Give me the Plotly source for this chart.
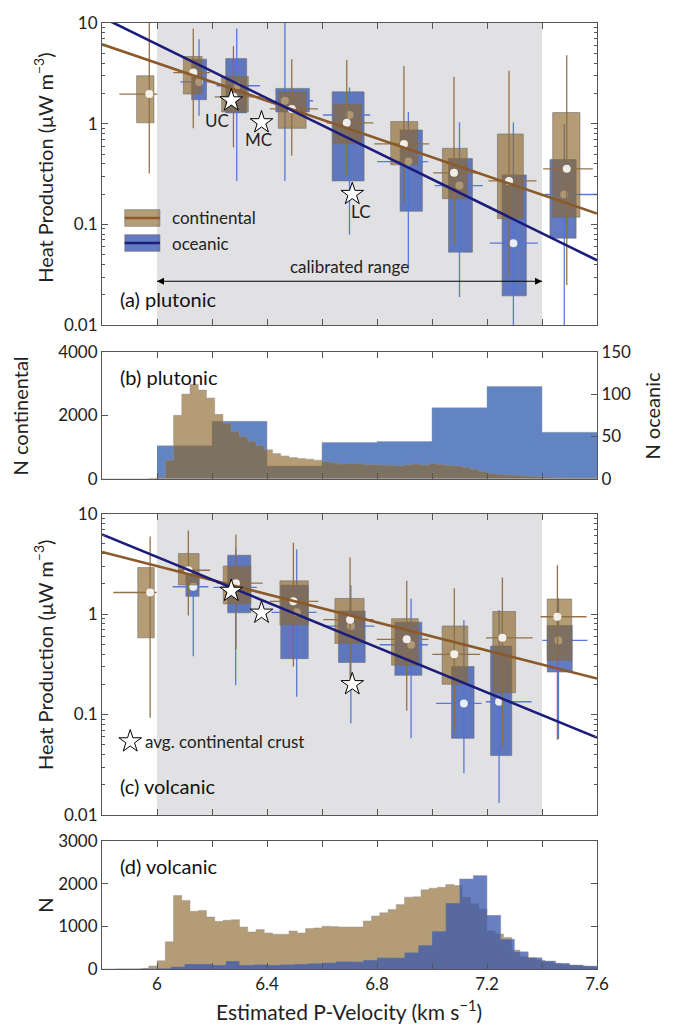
import numpy as np
import plotly.graph_objects as go

# ---------------- data ----------------
VP_RANGE = [5.8, 7.6]
CAL_RANGE = [6.0, 7.4]
X_TICKS = [6.0, 6.4, 6.8, 7.2, 7.6]
X_TICK_TEXT = ["6", "6.4", "6.8", "7.2", "7.6"]
X_MINOR_TICKS = [6.2, 6.6, 7.0, 7.4]
LOG_TICKS = [0.01, 0.1, 1, 10]
LOG_TICK_TEXT = ["0.01", "0.1", "1", "10"]

# regression lines (value at both ends of the velocity axis)
FIT_VP = [5.8, 7.6]
PLUT_FIT_CONT = [6.15, 0.128]
PLUT_FIT_OCEAN = [11.4, 0.044]
VOLC_FIT_CONT = [4.15, 0.228]
VOLC_FIT_OCEAN = [6.2, 0.059]

# average continental crust (upper, middle, lower)
STAR_VP = [6.27, 6.38, 6.71]
STAR_A = [1.7, 1.03, 0.2]
STAR_LABELS = ["UC", "MC", "LC"]

# ---- (a) plutonic, continental ----
PC_VP_MED = [5.972, 6.132, 6.278, 6.49, 6.69, 6.898, 7.08, 7.28, 7.49]
PC_VP_Q1 = [5.926, 6.096, 6.235, 6.441, 6.641, 6.85, 7.038, 7.238, 7.439]
PC_VP_Q3 = [5.989, 6.164, 6.332, 6.542, 6.744, 6.948, 7.128, 7.332, 7.538]
PC_VP_LO = [5.863, 6.059, 6.21, 6.41, 6.617, 6.79, 7.004, 7.205, 7.404]
PC_VP_HI = [6.001, 6.193, 6.385, 6.585, 6.787, 6.99, 7.175, 7.38, 7.585]
PC_A_MED = [1.97, 3.22, 1.85, 1.4, 1.02, 0.63, 0.325, 0.27, 0.356]
PC_A_Q1 = [1.02, 1.97, 1.31, 0.9, 0.63, 0.39, 0.18, 0.114, 0.118]
PC_A_Q3 = [2.99, 4.64, 2.94, 2.07, 1.57, 1.05, 0.57, 0.79, 1.29]
PC_A_LO = [0.32, 0.9, 0.58, 0.48, 0.31, 0.164, 0.064, 0.031, 0.025]
PC_A_HI = [12.0, 8.8, 5.9, 4.37, 4.3, 3.75, 2.92, 3.35, 4.79]

# ---- (a) plutonic, oceanic ----
PO_VP_MED = [6.153, 6.29, 6.465, 6.70, 6.914, 7.10, 7.296, 7.481]
PO_VP_Q1 = [6.126, 6.25, 6.432, 6.637, 6.884, 7.06, 7.255, 7.429]
PO_VP_Q3 = [6.18, 6.326, 6.554, 6.753, 6.965, 7.147, 7.343, 7.524]
PO_VP_LO = [6.085, 6.217, 6.43, 6.604, 6.80, 7.01, 7.21, 7.41]
PO_VP_HI = [6.21, 6.375, 6.567, 6.775, 6.985, 7.185, 7.385, 7.62]
PO_A_MED = [2.6, 2.38, 1.69, 1.22, 0.42, 0.243, 0.065, 0.198]
PO_A_Q1 = [1.73, 1.28, 1.31, 0.27, 0.135, 0.053, 0.0195, 0.073]
PO_A_Q3 = [4.37, 4.43, 2.24, 2.07, 0.865, 0.45, 0.31, 0.44]
PO_A_LO = [1.2, 0.27, 0.27, 0.079, 0.035, 0.019, 0.008, 0.008]
PO_A_HI = [6.9, 8.8, 12.0, 2.29, 1.31, 1.03, 1.03, 1.0]

# ---- (c) volcanic, continental ----
VC_VP_MED = [5.975, 6.114, 6.287, 6.496, 6.702, 6.908, 7.081, 7.256, 7.456]
VC_VP_Q1 = [5.93, 6.078, 6.241, 6.447, 6.647, 6.853, 7.037, 7.221, 7.419]
VC_VP_Q3 = [5.99, 6.153, 6.341, 6.55, 6.753, 6.95, 7.13, 7.304, 7.508]
VC_VP_LO = [5.841, 6.076, 6.217, 6.411, 6.605, 6.799, 7.001, 7.196, 7.395]
VC_VP_HI = [5.999, 6.193, 6.384, 6.587, 6.787, 6.987, 7.175, 7.366, 7.562]
VC_A_MED = [1.64, 2.73, 2.03, 1.34, 0.88, 0.56, 0.397, 0.58, 0.94]
VC_A_Q1 = [0.58, 1.95, 1.26, 0.78, 0.51, 0.31, 0.2, 0.165, 0.347]
VC_A_Q3 = [2.9, 4.0, 3.01, 2.14, 1.43, 0.9, 0.76, 1.06, 1.41]
VC_A_LO = [0.093, 0.97, 0.45, 0.3, 0.23, 0.109, 0.067, 0.046, 0.056]
VC_A_HI = [5.9, 6.8, 6.2, 5.13, 3.65, 2.14, 1.81, 2.31, 3.06]

# ---- (c) volcanic, oceanic ----
VO_VP_MED = [6.132, 6.286, 6.508, 6.705, 6.924, 7.116, 7.244, 7.46]
VO_VP_Q1 = [6.105, 6.257, 6.45, 6.66, 6.865, 7.071, 7.213, 7.419]
VO_VP_Q3 = [6.153, 6.341, 6.55, 6.757, 6.963, 7.153, 7.29, 7.51]
VO_VP_LO = [6.057, 6.205, 6.417, 6.605, 6.81, 7.015, 7.196, 7.401]
VO_VP_HI = [6.187, 6.363, 6.58, 6.79, 6.985, 7.18, 7.362, 7.565]
VO_A_MED = [1.87, 1.84, 1.04, 0.76, 0.495, 0.129, 0.134, 0.547]
VO_A_Q1 = [1.5, 1.03, 0.36, 0.33, 0.246, 0.058, 0.039, 0.265]
VO_A_Q3 = [2.5, 3.85, 1.94, 1.07, 0.83, 0.3, 0.48, 0.77]
VO_A_LO = [0.38, 0.196, 0.15, 0.082, 0.058, 0.026, 0.0132, 0.057]
VO_A_HI = [2.6, 4.5, 4.4, 1.94, 1.43, 0.87, 1.1, 1.43]

# ---- (b) plutonic histograms ----
HB_CONT_EDGE0, HB_CONT_W = 5.7, 0.03
HB_CONT_N = [0, 0, 0, 0, 0, 0, 0, 0, 0, 20,
             40, 588, 2000, 2670, 2980, 2800, 2546, 2031, 1753, 1495,
             1330, 1186, 1052, 918, 794, 722, 670, 639, 619, 588,
             536, 505, 464, 485, 474, 454, 443, 433, 423, 412,
             443, 464, 433, 485, 454, 423, 402, 361, 299, 227,
             175, 144, 124, 113, 93, 82, 62, 52, 41, 41,
             31, 31, 31, 31]
HB_OCEAN_EDGE0, HB_OCEAN_W = 6.0, 0.2
HB_OCEAN_N = [39, 68, 15, 43, 44, 84, 109, 55]

# ---- (d) volcanic histograms ----
HD_CONT_EDGE0, HD_CONT_W = 5.7, 0.03
HD_CONT_N = [0, 0, 0, 0, 2, 3, 5, 8, 15, 70,
             194, 636, 1721, 1605, 1349, 1372, 1217, 1116, 1140, 1155,
             984, 868, 922, 845, 814, 814, 891, 845, 946, 961,
             1000, 992, 984, 984, 984, 1124, 1240, 1318, 1395, 1512,
             1682, 1690, 1853, 1891, 1915, 1977, 1953, 1682, 1527, 1400,
             891, 820, 740, 442, 287, 264, 209, 170, 132, 108,
             85, 70, 54, 39]
HD_OCEAN_EDGE0, HD_OCEAN_W = 5.95, 0.05
HD_OCEAN_N = [5, 15, 54, 116, 116, 93, 186, 93, 108, 93,
              108, 116, 132, 147, 175, 170, 209, 264, 264, 388,
              558, 884, 1543, 2109, 2186, 1256, 698, 403, 264, 186,
              132, 93, 70]

# ---------------- style ----------------
FONT = "Lato"
TAN_FILL = "rgba(140,105,45,0.65)"
BLUE_FILL = "rgba(70,100,185,0.85)"
BOX_EDGE = "rgba(110,110,110,0.6)"
TAN_WHISK = "rgba(140,108,65,0.95)"
BLUE_WHISK = "rgba(80,115,215,0.95)"
CONT_LINE = "#8a5a2b"
OCEAN_LINE = "#1c1c7c"
HIST_TAN = "rgba(140,105,45,0.65)"
HIST_BLUE_B = "rgba(70,110,185,0.85)"
HIST_BLUE_D = "rgba(58,88,172,0.76)"
HIST_EDGE = "rgba(150,150,150,0.55)"
CAL_GREY = "#e1e1e3"
AX_COL = "#555555"

fig = go.Figure()


def add_series(xa, ya, vp_med, vp_q1, vp_q3, vp_lo, vp_hi, a_med, a_q1, a_q3, a_lo, a_hi,
               fill, whisk):
    bx, by = [], []
    for x0, x1, y0, y1 in zip(vp_q1, vp_q3, a_q1, a_q3):
        bx += [x0, x1, x1, x0, x0, None]
        by += [y0, y0, y1, y1, y0, None]
    fig.add_trace(go.Scatter(x=bx, y=by, mode="lines", fill="toself", fillcolor=fill,
                             line=dict(color=BOX_EDGE, width=1), xaxis=xa, yaxis=ya,
                             hoverinfo="skip", showlegend=False))
    wx, wy = [], []
    for xm, ym, xl, xh, yl, yh in zip(vp_med, a_med, vp_lo, vp_hi, a_lo, a_hi):
        wx += [xm, xm, None, xl, xh, None]
        wy += [yl, yh, None, ym, ym, None]
    fig.add_trace(go.Scatter(x=wx, y=wy, mode="lines", line=dict(color=whisk, width=1.3),
                             xaxis=xa, yaxis=ya, hoverinfo="skip", showlegend=False))
    fig.add_trace(go.Scatter(x=vp_med, y=a_med, mode="markers",
                             marker=dict(color="rgba(255,255,255,0.88)", size=8, line=dict(width=0)),
                             xaxis=xa, yaxis=ya, hoverinfo="skip", showlegend=False))


def add_panel(xa, ya, cont, ocean, fit_c, fit_o):
    add_series(xa, ya, *ocean, BLUE_FILL, BLUE_WHISK)
    add_series(xa, ya, *cont, TAN_FILL, TAN_WHISK)
    fig.add_trace(go.Scatter(x=FIT_VP, y=fit_c, mode="lines", line=dict(color=CONT_LINE, width=2.6),
                             xaxis=xa, yaxis=ya, hoverinfo="skip", showlegend=False))
    fig.add_trace(go.Scatter(x=FIT_VP, y=fit_o, mode="lines", line=dict(color=OCEAN_LINE, width=2.6),
                             xaxis=xa, yaxis=ya, hoverinfo="skip", showlegend=False))
    fig.add_trace(go.Scatter(x=STAR_VP, y=STAR_A, mode="markers",
                             marker=dict(symbol="star", size=17, color="white",
                                         line=dict(color="black", width=1)),
                             xaxis=xa, yaxis=ya, hoverinfo="skip", showlegend=False))


# (a) plutonic
add_panel("x", "y",
          (PC_VP_MED, PC_VP_Q1, PC_VP_Q3, PC_VP_LO, PC_VP_HI, PC_A_MED, PC_A_Q1, PC_A_Q3, PC_A_LO, PC_A_HI),
          (PO_VP_MED, PO_VP_Q1, PO_VP_Q3, PO_VP_LO, PO_VP_HI, PO_A_MED, PO_A_Q1, PO_A_Q3, PO_A_LO, PO_A_HI),
          PLUT_FIT_CONT, PLUT_FIT_OCEAN)
# (c) volcanic
add_panel("x3", "y4",
          (VC_VP_MED, VC_VP_Q1, VC_VP_Q3, VC_VP_LO, VC_VP_HI, VC_A_MED, VC_A_Q1, VC_A_Q3, VC_A_LO, VC_A_HI),
          (VO_VP_MED, VO_VP_Q1, VO_VP_Q3, VO_VP_LO, VO_VP_HI, VO_A_MED, VO_A_Q1, VO_A_Q3, VO_A_LO, VO_A_HI),
          VOLC_FIT_CONT, VOLC_FIT_OCEAN)


def stairs(edge0, w, counts, xa, ya, color):
    edges = edge0 + w * np.arange(len(counts) + 1)
    ys = list(counts) + [counts[-1]]
    fig.add_trace(go.Scatter(x=edges, y=ys, mode="lines", line=dict(shape="hv", color=HIST_EDGE, width=0.8),
                             fill="tozeroy", fillcolor=color, xaxis=xa, yaxis=ya,
                             hoverinfo="skip", showlegend=False))


# (b) plutonic histograms: oceanic on y2 (right), continental on y3 (left, drawn on top)
stairs(HB_OCEAN_EDGE0, HB_OCEAN_W, HB_OCEAN_N, "x2", "y2", HIST_BLUE_B)
stairs(HB_CONT_EDGE0, HB_CONT_W, HB_CONT_N, "x2", "y3", HIST_TAN)
# (d) volcanic histograms
stairs(HD_CONT_EDGE0, HD_CONT_W, HD_CONT_N, "x4", "y5", HIST_TAN)
stairs(HD_OCEAN_EDGE0, HD_OCEAN_W, HD_OCEAN_N, "x4", "y5", HIST_BLUE_D)

# calibrated range arrow (panel a), drawn in data coordinates
ARROW_Y = 10 ** (-2 + 3 * 0.145)
fig.add_trace(go.Scatter(x=CAL_RANGE, y=[ARROW_Y, ARROW_Y], mode="lines+markers",
                         line=dict(color="black", width=1.1),
                         marker=dict(symbol=["arrow-left", "arrow-right"], size=7, color="black",
                                     line=dict(width=0)),
                         xaxis="x", yaxis="y", hoverinfo="skip", showlegend=False))

# star legend key (panel c)
fig.add_trace(go.Scatter(x=[VP_RANGE[0] + 0.057 * (VP_RANGE[1] - VP_RANGE[0])],
                         y=[10 ** (-2 + 3 * 0.244)], mode="markers",
                         marker=dict(symbol="star", size=17, color="white", line=dict(color="black", width=1)),
                         xaxis="x3", yaxis="y4", hoverinfo="skip", showlegend=False))

# ---------------- layout ----------------
D_A = [0.6807, 1.0]
D_B = [0.5182, 0.6523]
D_C = [0.1628, 0.4814]
D_D = [0.0, 0.1355]

tickfont = dict(family=FONT, size=17, color="#222")
minor_log = [m * 10.0 ** e for e in (-2, -1, 0) for m in range(2, 10)]


def xax(anchor, show_labels):
    return dict(range=VP_RANGE, anchor=anchor, domain=[0, 1], showline=True, linecolor=AX_COL,
                linewidth=1, mirror="ticks", ticks="inside", ticklen=6, tickcolor=AX_COL,
                tickvals=X_TICKS, ticktext=X_TICK_TEXT, showticklabels=show_labels,
                minor=dict(tickvals=X_MINOR_TICKS, ticks="inside", ticklen=6, tickcolor=AX_COL,
                           showgrid=False),
                showgrid=False, zeroline=False, tickfont=tickfont)


def logax(anchor, dom):
    return dict(type="log", range=[-2, 1], anchor=anchor, domain=dom, showline=True,
                linecolor=AX_COL, linewidth=1, mirror="ticks", ticks="inside", ticklen=6,
                tickcolor=AX_COL, tickvals=LOG_TICKS, ticktext=LOG_TICK_TEXT, showgrid=False,
                zeroline=False, tickfont=tickfont,
                minor=dict(tickvals=minor_log, ticks="inside", ticklen=3, tickcolor=AX_COL,
                           showgrid=False))


layout = dict(
    width=676, height=1030,
    margin=dict(l=102, r=79, t=17, b=61),
    paper_bgcolor="white", plot_bgcolor="white",
    font=dict(family=FONT, size=17, color="#222"),
    showlegend=False,
    xaxis=xax("y", False),
    xaxis2=xax("y2", False),
    xaxis3=xax("y4", False),
    xaxis4=xax("y5", True),
    yaxis=logax("x", D_A),
    yaxis2=dict(range=[0, 150], anchor="x2", domain=D_B, side="right", showline=True,
                linecolor=AX_COL, linewidth=1, ticks="inside", ticklen=6, tickcolor=AX_COL,
                tickvals=[0, 50, 100, 150], showgrid=False, zeroline=False, tickfont=tickfont),
    yaxis3=dict(range=[0, 4000], overlaying="y2", anchor="x2", side="left", showline=True,
                linecolor=AX_COL, linewidth=1, ticks="inside", ticklen=6, tickcolor=AX_COL,
                tickvals=[0, 2000, 4000], showgrid=False, zeroline=False, tickfont=tickfont),
    yaxis4=logax("x3", D_C),
    yaxis5=dict(range=[0, 3000], anchor="x4", domain=D_D, showline=True, linecolor=AX_COL,
                linewidth=1, mirror="ticks", ticks="inside", ticklen=6, tickcolor=AX_COL,
                tickvals=[0, 1000, 2000, 3000], showgrid=False, zeroline=False, tickfont=tickfont),
)
fig.update_layout(**layout)

# calibrated range background
for xr, yr in (("x", "y domain"), ("x3", "y4 domain")):
    fig.add_shape(type="rect", xref=xr, yref=yr, x0=CAL_RANGE[0], x1=CAL_RANGE[1], y0=0, y1=1,
                  fillcolor=CAL_GREY, line=dict(width=0), layer="below")

# legend (panel a)
for (y0, y1), fill, lc, label in (((0.327, 0.382), TAN_FILL, CONT_LINE, "continental"),
                                  ((0.244, 0.299), BLUE_FILL, OCEAN_LINE, "oceanic")):
    fig.add_shape(type="rect", xref="x domain", yref="y domain", x0=0.046, x1=0.117, y0=y0, y1=y1,
                  fillcolor=fill, line=dict(color=BOX_EDGE, width=1))
    fig.add_shape(type="line", xref="x domain", yref="y domain", x0=0.046, x1=0.117,
                  y0=(y0 + y1) / 2, y1=(y0 + y1) / 2, line=dict(color=lc, width=2.6))
    fig.add_annotation(xref="x domain", yref="y domain", x=0.137, y=(y0 + y1) / 2, text=label,
                       showarrow=False, xanchor="left", yanchor="middle", font=dict(size=17))

fig.add_annotation(xref="x", yref="y domain", x=sum(CAL_RANGE) / 2, y=0.194, text="calibrated range",
                   showarrow=False, xanchor="center", yanchor="middle", font=dict(size=17))

# star labels (panel a)
label_shift = {"UC": (-14, -20), "MC": (-3, -17), "LC": (9, -17)}
for vp, a, lab in zip(STAR_VP, STAR_A, STAR_LABELS):
    dx, dy = label_shift[lab]
    fig.add_annotation(xref="x", yref="y", x=vp, y=np.log10(a), text=lab, showarrow=False,
                       xshift=dx, yshift=dy, font=dict(size=17))

# panel labels
for xr, yr, y, txt in (("x", "y domain", 0.086, "(a) plutonic"),
                       ("x2", "y2 domain", 0.80, "(b) plutonic"),
                       ("x3", "y4 domain", 0.096, "(c) volcanic"),
                       ("x4", "y5 domain", 0.806, "(d) volcanic")):
    fig.add_annotation(xref=xr + " domain", yref=yr, x=0.032, y=y, text=txt, showarrow=False,
                       xanchor="left", yanchor="middle", font=dict(size=20, color="#111"))

fig.add_annotation(xref="x3 domain", yref="y4 domain", x=0.083, y=0.244, text="avg. continental crust",
                   showarrow=False, xanchor="left", yanchor="middle", font=dict(size=17))

# axis titles
HP = "Heat Production (μW m<sup>−3</sup>)"
for y in (0.847, 0.332):
    fig.add_annotation(xref="paper", yref="paper", x=-0.119, y=y, text=HP, textangle=-90,
                       showarrow=False, xanchor="center", yanchor="middle", font=dict(size=20))
fig.add_annotation(xref="paper", yref="paper", x=-0.166, y=0.585, text="N continental", textangle=-90,
                   showarrow=False, xanchor="center", yanchor="middle", font=dict(size=20))
fig.add_annotation(xref="paper", yref="paper", x=1.111, y=0.585, text="N oceanic", textangle=-90,
                   showarrow=False, xanchor="center", yanchor="middle", font=dict(size=20))
fig.add_annotation(xref="paper", yref="paper", x=-0.115, y=0.067, text="N", textangle=-90,
                   showarrow=False, xanchor="center", yanchor="middle", font=dict(size=20))
fig.add_annotation(xref="paper", yref="paper", x=0.499, y=-0.043, text="Estimated P-Velocity (km s<sup>−1</sup>)",
                   showarrow=False, xanchor="center", yanchor="middle", font=dict(size=21))

fig.write_html("out.html")
